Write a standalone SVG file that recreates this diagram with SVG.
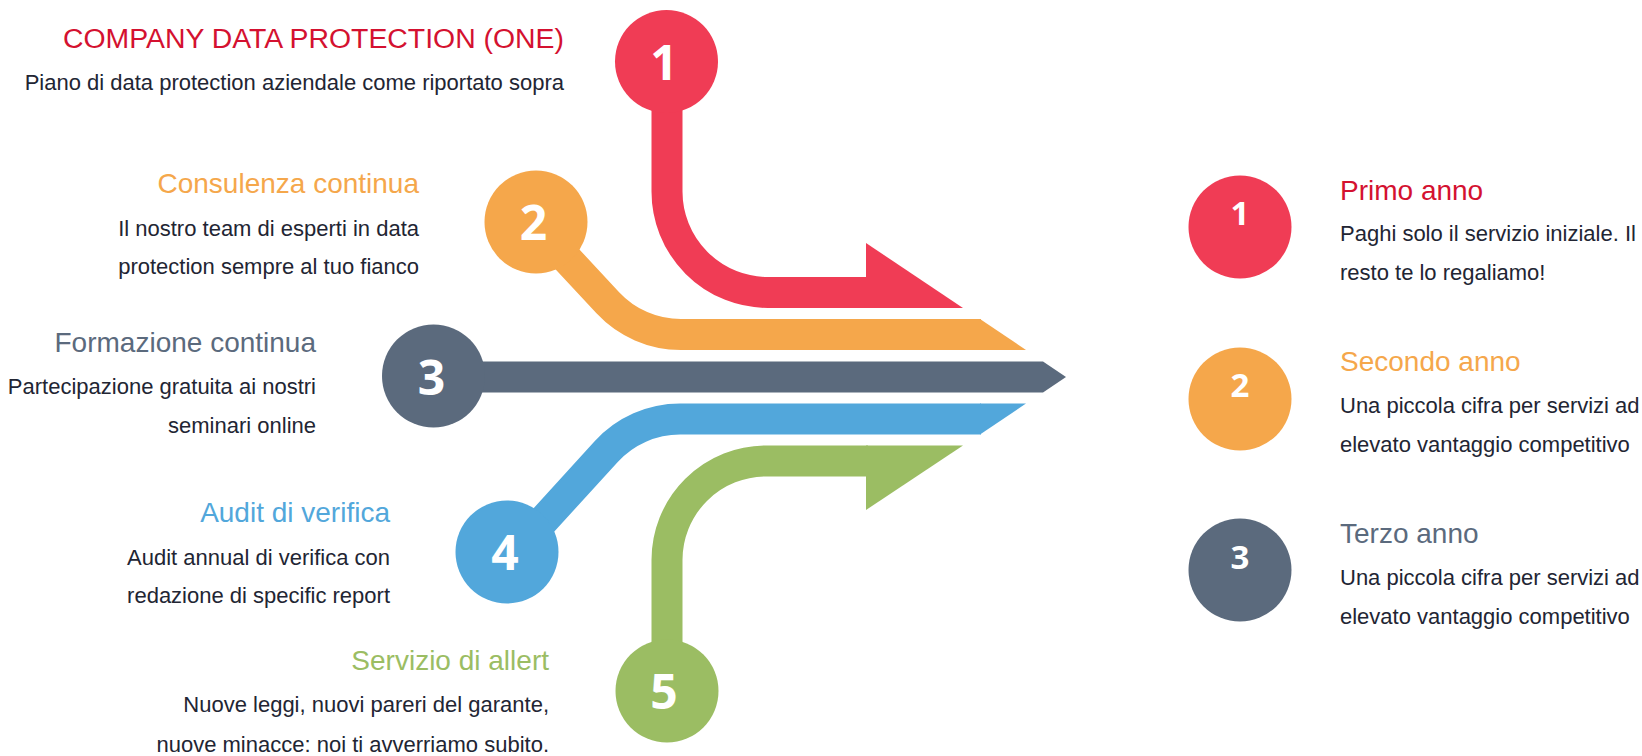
<svg xmlns="http://www.w3.org/2000/svg" width="1642" height="756" viewBox="0 0 1642 756">
<style>
.t{font-family:"Liberation Sans",Arial,sans-serif}
.h{font-size:28px}
.b{font-size:22px;fill:#222533}
.e{text-anchor:end}
.d{font-family:"Open Sans","Noto Sans",sans-serif;font-weight:700;fill:#fff;text-anchor:middle}
.dl{font-size:48px}
.dr{font-size:33px}
.ln{fill:none;stroke-width:31;stroke-linecap:butt;stroke-linejoin:round}
.red{fill:#F03C55}.ora{fill:#F5A74B}.gry{fill:#5B6A7D}.blu{fill:#52A7DB}.grn{fill:#9BBD63}
.tred{fill:#D41130}
</style>
<rect width="1642" height="756" fill="#fff"/>
<g id="connectors">
  <path class="ln" stroke="#F03C55" d="M667 100 L667 191.5 A101 101 0 0 0 768 292.5 L868 292.5"/>
  <polygon class="red" points="866,243 963,308 866,308"/>
  <path class="ln" stroke="#F5A74B" d="M526 214.9 L607.8 302.7 A100 100 0 0 0 680.9 334.5 L981 334.5"/>
  <polygon class="ora" points="980,319 1026,350 980,350"/>
  <polygon class="gry" points="470,361.5 1043,361.5 1066,377 1043,392.5 470,392.5"/>
  <path class="ln" stroke="#52A7DB" d="M518.7 547.6 L606.3 451.5 A100 100 0 0 1 680 419 L981 419"/>
  <polygon class="blu" points="980,403.5 1026,403.5 980,434.5"/>
  <path class="ln" stroke="#9BBD63" d="M667 650 L667 560 A99 99 0 0 1 766 461 L868 461"/>
  <polygon class="grn" points="866,445.5 963,445.5 866,510"/>
</g>
<g id="node-1">
  <circle class="red" cx="666.5" cy="61.5" r="51.5"/>
  <text class="d dl" x="664" y="79.5">1</text>
  <text class="t h e tred" x="564" y="48.3" style="font-size:28.4px">COMPANY DATA PROTECTION (ONE)</text>
  <text class="t b e" x="564" y="90">Piano di data protection aziendale come riportato sopra</text>
</g>
<g id="node-2">
  <circle class="ora" cx="536" cy="222" r="51.5"/>
  <text class="d dl" x="533.5" y="240">2</text>
  <text class="t h e ora" x="419" y="193.3">Consulenza continua</text>
  <text class="t b e" x="419" y="235.7">Il nostro team di esperti in data</text>
  <text class="t b e" x="419" y="274">protection sempre al tuo fianco</text>
</g>
<g id="node-3">
  <circle class="gry" cx="433.5" cy="376" r="51.5"/>
  <text class="d dl" x="431.5" y="394.5">3</text>
  <text class="t h e gry" x="316" y="352.3">Formazione continua</text>
  <text class="t b e" x="316" y="394.3">Partecipazione gratuita ai nostri</text>
  <text class="t b e" x="316" y="432.7">seminari online</text>
</g>
<g id="node-4">
  <circle class="blu" cx="507" cy="552" r="51.5"/>
  <text class="d dl" x="505" y="570">4</text>
  <text class="t h e blu" x="390" y="521.7">Audit di verifica</text>
  <text class="t b e" x="390" y="565">Audit annual di verifica con</text>
  <text class="t b e" x="390" y="603">redazione di specific report</text>
</g>
<g id="node-5">
  <circle class="grn" cx="667" cy="691" r="51.5"/>
  <text class="d dl" x="664" y="708.5">5</text>
  <text class="t h e grn" x="549" y="670">Servizio di allert</text>
  <text class="t b e" x="549" y="711.7">Nuove leggi, nuovi pareri del garante,</text>
  <text class="t b e" x="549" y="751.5">nuove minacce: noi ti avverriamo subito.</text>
</g>
<g id="year-1">
  <circle class="red" cx="1240" cy="227" r="51.5"/>
  <text class="d dr" x="1240" y="224.5">1</text>
  <text class="t h tred" x="1340" y="200">Primo anno</text>
  <text class="t b" x="1340" y="241">Paghi solo il servizio iniziale. Il</text>
  <text class="t b" x="1340" y="280">resto te lo regaliamo!</text>
</g>
<g id="year-2">
  <circle class="ora" cx="1240" cy="399" r="51.5"/>
  <text class="d dr" x="1240" y="396.5">2</text>
  <text class="t h ora" x="1340" y="370.7">Secondo anno</text>
  <text class="t b" x="1340" y="413">Una piccola cifra per servizi ad</text>
  <text class="t b" x="1340" y="452">elevato vantaggio competitivo</text>
</g>
<g id="year-3">
  <circle class="gry" cx="1240" cy="570" r="51.5"/>
  <text class="d dr" x="1240" y="568.5">3</text>
  <text class="t h gry" x="1340" y="542.7">Terzo anno</text>
  <text class="t b" x="1340" y="585">Una piccola cifra per servizi ad</text>
  <text class="t b" x="1340" y="624">elevato vantaggio competitivo</text>
</g>
</svg>
